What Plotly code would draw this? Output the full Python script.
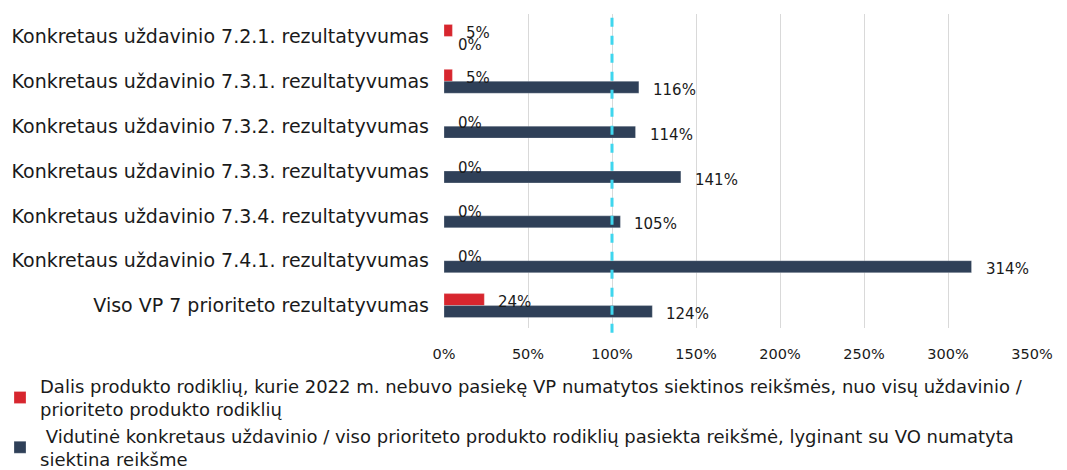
import plotly.graph_objects as go

categories = [
    "Konkretaus uždavinio 7.2.1. rezultatyvumas",
    "Konkretaus uždavinio 7.3.1. rezultatyvumas",
    "Konkretaus uždavinio 7.3.2. rezultatyvumas",
    "Konkretaus uždavinio 7.3.3. rezultatyvumas",
    "Konkretaus uždavinio 7.3.4. rezultatyvumas",
    "Konkretaus uždavinio 7.4.1. rezultatyvumas",
    "Viso VP 7 prioriteto rezultatyvumas",
]
share_not_reached = [0.05, 0.05, 0.0, 0.0, 0.0, 0.0, 0.24]
avg_achieved = [0.0, 1.16, 1.14, 1.41, 1.05, 3.14, 1.24]
x_ticks = [0, 0.5, 1, 1.5, 2, 2.5, 3, 3.5]

name_red = ("Dalis produkto rodiklių, kurie 2022 m. nebuvo pasiekę VP numatytos siektinos reikšmės, nuo visų uždavinio /"
            "<br>prioriteto produkto rodiklių")
name_dark = (" Vidutinė konkretaus uždavinio / viso prioriteto produkto rodiklių pasiekta reikšmė, lyginant su VO numatyta"
             "<br>siektina reikšme")

RED = "#d7262e"
DARK = "#2f4058"
FONT = "DejaVu Sans"
TXT = "#1a1a1a"

fig = go.Figure()
fig.add_trace(go.Bar(
    y=categories, x=share_not_reached, orientation="h", name=name_red,
    marker=dict(color=RED, line=dict(color="rgba(255,255,255,0.5)", width=0.5)),
    legendrank=1,
))
fig.add_trace(go.Bar(
    y=categories, x=avg_achieved, orientation="h", name=name_dark,
    marker=dict(color=DARK, line=dict(color="rgba(255,255,255,0.5)", width=0.5)),
    legendrank=2,
))

annotations = []
for vals, ys in ((share_not_reached, 3.5), (avg_achieved, -8.5)):
    for cat, v in zip(categories, vals):
        annotations.append(dict(
            x=v, y=cat, xref="x", yref="y", text=f"{round(v*100)}%",
            showarrow=False, xanchor="left", yanchor="middle",
            xshift=12, yshift=ys, font=dict(family=FONT, size=15, color=TXT),
        ))

fig.add_shape(type="line", xref="x", yref="paper", x0=1.0, x1=1.0, y0=-0.015, y1=1.005,
              line=dict(color="#3fd6ee", width=3, dash="dash"))

fig.update_layout(
    width=1067, height=470,
    margin=dict(l=444, r=35, t=13.5, b=141.5, autoexpand=False),
    barmode="group", bargap=0.467, bargroupgap=0,
    plot_bgcolor="white", paper_bgcolor="white",
    font=dict(family=FONT, size=18, color=TXT),
    xaxis=dict(range=[0, 3.5], tickvals=x_ticks, tickformat=".0%",
               showgrid=True, gridcolor="#d9d9d9", gridwidth=1, zeroline=False,
               showline=False, ticks="", tickfont=dict(size=14.5), ticklabelstandoff=15),
    yaxis=dict(autorange="reversed", showgrid=False, ticks="",
               tickfont=dict(size=19), ticklabelstandoff=14),
    legend=dict(xref="container", yref="container", x=0, xanchor="left",
                y=0.218, yanchor="top", orientation="v",
                font=dict(size=18), traceorder="normal", itemwidth=30, tracegroupgap=1),
    showlegend=True,
    annotations=annotations,
)

fig.write_html("out.html", config={"displayModeBar": False},
               post_script="document.body.style.margin='0';document.body.style.overflow='hidden';")
